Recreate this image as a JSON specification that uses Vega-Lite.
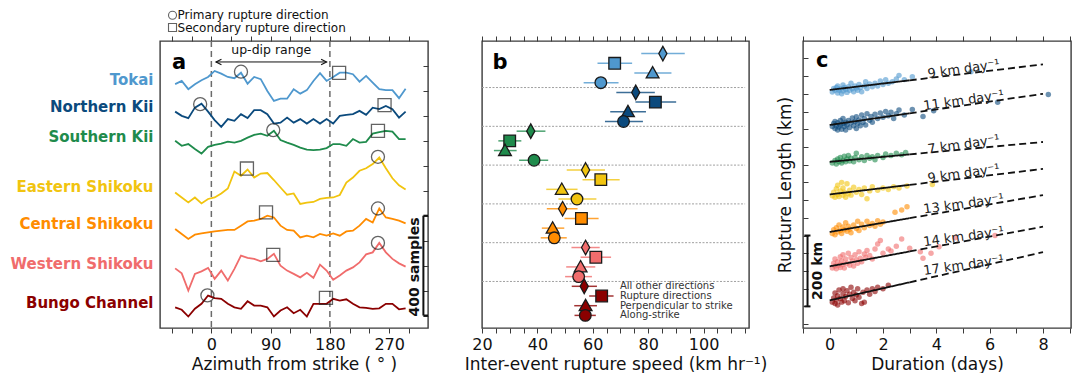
{
"$schema": "https://vega.github.io/schema/vega-lite/v6.json",
"padding": {"left": 9, "top": 8, "right": 0, "bottom": 0},
"config": {
  "font": "DejaVu Sans",
  "view": {"stroke": "#3a3a3a", "strokeWidth": 1.4},
  "axis": {"domain": false, "grid": false, "tickColor": "#3a3a3a", "tickWidth": 1, "labelFontSize": 16, "titleFontSize": 17, "titleFontWeight": "normal", "titleColor": "#111", "labelFont": "DejaVu Sans", "titleFont": "DejaVu Sans", "labelFlush": false, "labelOverlap": false},
  "text": {"font": "DejaVu Sans"}
},
"resolve": {"scale": {"shape": "independent", "color": "independent", "fill": "independent", "strokeDash": "independent"}},
"spacing": 54,
"bounds": "flush",
"datasets": {
  "aline": [
    {"az":-55,"TK":1027,"NK":917,"SK":800,"ES":593,"CS":447,"WS":289,"BC":133},
    {"az":-45,"TK":1040,"NK":900,"SK":780,"ES":573,"CS":427,"WS":269,"BC":123},
    {"az":-35,"TK":1007,"NK":891,"SK":787,"ES":553,"CS":407,"WS":200,"BC":96},
    {"az":-25,"TK":1027,"NK":933,"SK":767,"ES":573,"CS":424,"WS":267,"BC":127},
    {"az":-15,"TK":1043,"NK":949,"SK":749,"ES":549,"CS":429,"WS":277,"BC":147},
    {"az":-5,"TK":1056,"NK":917,"SK":776,"ES":567,"CS":433,"WS":291,"BC":180},
    {"az":5,"TK":1080,"NK":883,"SK":784,"ES":573,"CS":437,"WS":247,"BC":170},
    {"az":15,"TK":1069,"NK":856,"SK":789,"ES":589,"CS":440,"WS":280,"BC":167},
    {"az":25,"TK":1056,"NK":887,"SK":797,"ES":609,"CS":443,"WS":240,"BC":147},
    {"az":35,"TK":1051,"NK":880,"SK":793,"ES":677,"CS":443,"WS":287,"BC":133},
    {"az":45,"TK":1073,"NK":907,"SK":800,"ES":660,"CS":460,"WS":340,"BC":127},
    {"az":55,"TK":1029,"NK":891,"SK":813,"ES":685,"CS":477,"WS":331,"BC":157},
    {"az":65,"TK":1056,"NK":923,"SK":824,"ES":653,"CS":480,"WS":327,"BC":140},
    {"az":75,"TK":1047,"NK":923,"SK":829,"ES":669,"CS":487,"WS":317,"BC":140},
    {"az":85,"TK":1000,"NK":907,"SK":820,"ES":671,"CS":500,"WS":327,"BC":133},
    {"az":95,"TK":960,"NK":869,"SK":840,"ES":643,"CS":493,"WS":347,"BC":96},
    {"az":105,"TK":969,"NK":873,"SK":803,"ES":613,"CS":460,"WS":300,"BC":120},
    {"az":115,"TK":969,"NK":893,"SK":793,"ES":584,"CS":443,"WS":280,"BC":133},
    {"az":125,"TK":1007,"NK":873,"SK":784,"ES":589,"CS":440,"WS":267,"BC":109},
    {"az":135,"TK":989,"NK":887,"SK":773,"ES":547,"CS":413,"WS":253,"BC":123},
    {"az":145,"TK":1003,"NK":869,"SK":765,"ES":552,"CS":420,"WS":271,"BC":96},
    {"az":155,"TK":1040,"NK":887,"SK":763,"ES":555,"CS":413,"WS":251,"BC":147},
    {"az":165,"TK":1071,"NK":869,"SK":765,"ES":567,"CS":427,"WS":304,"BC":147},
    {"az":175,"TK":1040,"NK":887,"SK":771,"ES":571,"CS":420,"WS":280,"BC":147},
    {"az":185,"TK":1056,"NK":869,"SK":787,"ES":573,"CS":429,"WS":243,"BC":167},
    {"az":195,"TK":1073,"NK":900,"SK":787,"ES":583,"CS":420,"WS":260,"BC":160},
    {"az":205,"TK":1073,"NK":904,"SK":780,"ES":633,"CS":437,"WS":280,"BC":165},
    {"az":215,"TK":1067,"NK":907,"SK":807,"ES":653,"CS":440,"WS":293,"BC":147},
    {"az":225,"TK":1037,"NK":920,"SK":793,"ES":680,"CS":460,"WS":313,"BC":133},
    {"az":235,"TK":1060,"NK":904,"SK":796,"ES":690,"CS":487,"WS":345,"BC":131},
    {"az":245,"TK":1033,"NK":933,"SK":829,"ES":707,"CS":473,"WS":353,"BC":127},
    {"az":255,"TK":1007,"NK":927,"SK":835,"ES":733,"CS":529,"WS":391,"BC":129},
    {"az":265,"TK":1003,"NK":940,"SK":840,"ES":690,"CS":493,"WS":353,"BC":147},
    {"az":275,"TK":1003,"NK":927,"SK":837,"ES":650,"CS":487,"WS":327,"BC":147},
    {"az":285,"TK":971,"NK":893,"SK":807,"ES":622,"CS":480,"WS":309,"BC":125},
    {"az":295,"TK":1009,"NK":917,"SK":807,"ES":605,"CS":469,"WS":296,"BC":129}
  ],
  "amark": [
    {"r":"TK","typ":"P","az":45,"s":1077},{"r":"TK","typ":"S","az":194,"s":1072},
    {"r":"NK","typ":"P","az":-17,"s":947},{"r":"NK","typ":"S","az":263,"s":943},
    {"r":"SK","typ":"P","az":94,"s":843},{"r":"SK","typ":"S","az":253,"s":840},
    {"r":"ES","typ":"S","az":54,"s":689},{"r":"ES","typ":"P","az":253,"s":736},
    {"r":"CS","typ":"S","az":83,"s":513},{"r":"CS","typ":"P","az":253,"s":529},
    {"r":"WS","typ":"S","az":94,"s":343},{"r":"WS","typ":"P","az":253,"s":391},
    {"r":"BC","typ":"P","az":-6,"s":181},{"r":"BC","typ":"S","az":174,"s":171}
  ],
  "brow": [
    {"r":"TK","d":"All other directions","v":85.3,"lo":77.5,"hi":93.2},
    {"r":"TK","d":"Rupture directions","v":67.9,"lo":61.7,"hi":74.2},
    {"r":"TK","d":"Perpendicular to strike","v":81.6,"lo":75.0,"hi":88.4},
    {"r":"TK","d":"Along-strike","v":62.9,"lo":56.7,"hi":69.3},
    {"r":"NK","d":"All other directions","v":75.5,"lo":68.5,"hi":82.4},
    {"r":"NK","d":"Rupture directions","v":82.6,"lo":75.4,"hi":90.1},
    {"r":"NK","d":"Perpendicular to strike","v":72.7,"lo":66.3,"hi":79.2},
    {"r":"NK","d":"Along-strike","v":71.1,"lo":64.4,"hi":78.1},
    {"r":"SK","d":"All other directions","v":37.6,"lo":32.5,"hi":42.9},
    {"r":"SK","d":"Rupture directions","v":30.0,"lo":25.9,"hi":34.2},
    {"r":"SK","d":"Perpendicular to strike","v":28.3,"lo":24.3,"hi":32.5},
    {"r":"SK","d":"Along-strike","v":38.8,"lo":33.4,"hi":43.9},
    {"r":"ES","d":"All other directions","v":57.4,"lo":50.6,"hi":64.4},
    {"r":"ES","d":"Rupture directions","v":62.9,"lo":56.3,"hi":69.7},
    {"r":"ES","d":"Perpendicular to strike","v":48.8,"lo":43.2,"hi":54.5},
    {"r":"ES","d":"Along-strike","v":54.3,"lo":47.6,"hi":61.3},
    {"r":"CS","d":"All other directions","v":49.1,"lo":43.4,"hi":54.5},
    {"r":"CS","d":"Rupture directions","v":55.9,"lo":49.8,"hi":62.1},
    {"r":"CS","d":"Perpendicular to strike","v":45.5,"lo":41.6,"hi":49.7},
    {"r":"CS","d":"Along-strike","v":46.1,"lo":41.2,"hi":50.6},
    {"r":"WS","d":"All other directions","v":57.4,"lo":52.3,"hi":62.5},
    {"r":"WS","d":"Rupture directions","v":61.1,"lo":55.6,"hi":66.6},
    {"r":"WS","d":"Perpendicular to strike","v":55.6,"lo":50.4,"hi":60.9},
    {"r":"WS","d":"Along-strike","v":54.9,"lo":50.0,"hi":59.7},
    {"r":"BC","d":"All other directions","v":56.9,"lo":52.4,"hi":61.5},
    {"r":"BC","d":"Rupture directions","v":63.2,"lo":58.7,"hi":67.5},
    {"r":"BC","d":"Perpendicular to strike","v":57.4,"lo":53.3,"hi":61.5},
    {"r":"BC","d":"Along-strike","v":57.3,"lo":53.4,"hi":61.1}
  ],
  "cfit": [
    {"r":"TK","seg":"solid","t":0,"k":661},{"r":"TK","seg":"solid","t":3,"k":688},{"r":"TK","seg":"dashed","t":3,"k":688},{"r":"TK","seg":"dashed","t":8,"k":733},
    {"r":"NK","seg":"solid","t":0,"k":562},{"r":"NK","seg":"solid","t":3,"k":595},{"r":"NK","seg":"dashed","t":3,"k":595},{"r":"NK","seg":"dashed","t":8,"k":650},
    {"r":"SK","seg":"solid","t":0,"k":458},{"r":"SK","seg":"solid","t":3,"k":479},{"r":"SK","seg":"dashed","t":3,"k":479},{"r":"SK","seg":"dashed","t":8,"k":514},
    {"r":"ES","seg":"solid","t":0,"k":366},{"r":"ES","seg":"solid","t":3,"k":393},{"r":"ES","seg":"dashed","t":3,"k":393},{"r":"ES","seg":"dashed","t":8,"k":438},
    {"r":"CS","seg":"solid","t":0,"k":260},{"r":"CS","seg":"solid","t":3,"k":299},{"r":"CS","seg":"dashed","t":3,"k":299},{"r":"CS","seg":"dashed","t":8,"k":364},
    {"r":"WS","seg":"solid","t":0,"k":163},{"r":"WS","seg":"solid","t":3,"k":205},{"r":"WS","seg":"dashed","t":3,"k":205},{"r":"WS","seg":"dashed","t":8,"k":275},
    {"r":"BC","seg":"solid","t":0,"k":67},{"r":"BC","seg":"solid","t":3,"k":118},{"r":"BC","seg":"dashed","t":3,"k":118},{"r":"BC","seg":"dashed","t":8,"k":203}
  ],
  "clab": [
    {"r":"TK","lab":"9 km day⁻¹","t":5.05,"k":706},
    {"r":"NK","lab":"11 km day⁻¹","t":5.05,"k":617},
    {"r":"SK","lab":"7 km day⁻¹","t":5.05,"k":493},
    {"r":"ES","lab":"9 km day⁻¹","t":5.05,"k":411},
    {"r":"CS","lab":"13 km day⁻¹","t":5.05,"k":325},
    {"r":"WS","lab":"14 km day⁻¹","t":5.05,"k":233},
    {"r":"BC","lab":"17 km day⁻¹","t":5.05,"k":152}
  ],
  "cpts": [
    {"r":"TK","t":0.1,"k":655},{"r":"TK","t":0.15,"k":665},{"r":"TK","t":0.2,"k":660},{"r":"TK","t":0.25,"k":668},{"r":"TK","t":0.3,"k":652},{"r":"TK","t":0.3,"k":672},{"r":"TK","t":0.35,"k":660},{"r":"TK","t":0.4,"k":664},{"r":"TK","t":0.45,"k":650},{"r":"TK","t":0.5,"k":675},{"r":"TK","t":0.5,"k":658},{"r":"TK","t":0.55,"k":668},{"r":"TK","t":0.6,"k":662},{"r":"TK","t":0.65,"k":654},{"r":"TK","t":0.7,"k":670},{"r":"TK","t":0.75,"k":660},{"r":"TK","t":0.8,"k":680},{"r":"TK","t":0.85,"k":664},{"r":"TK","t":0.9,"k":656},{"r":"TK","t":0.95,"k":672},{"r":"TK","t":1.0,"k":666},{"r":"TK","t":1.05,"k":660},{"r":"TK","t":1.1,"k":676},{"r":"TK","t":1.15,"k":668},{"r":"TK","t":1.2,"k":656},{"r":"TK","t":1.3,"k":672},{"r":"TK","t":1.35,"k":684},{"r":"TK","t":1.4,"k":665},{"r":"TK","t":1.5,"k":678},{"r":"TK","t":1.6,"k":670},{"r":"TK","t":1.7,"k":680},{"r":"TK","t":1.8,"k":672},{"r":"TK","t":1.9,"k":686},{"r":"TK","t":2.0,"k":676},{"r":"TK","t":2.1,"k":690},{"r":"TK","t":2.2,"k":680},{"r":"TK","t":2.35,"k":684},{"r":"TK","t":2.5,"k":692},{"r":"TK","t":2.6,"k":702},{"r":"TK","t":2.8,"k":690},{"r":"TK","t":3.1,"k":698},{"r":"TK","t":5.3,"k":712},
    {"r":"NK","t":0.1,"k":558},{"r":"NK","t":0.15,"k":566},{"r":"NK","t":0.2,"k":552},{"r":"NK","t":0.2,"k":572},{"r":"NK","t":0.25,"k":560},{"r":"NK","t":0.3,"k":548},{"r":"NK","t":0.3,"k":568},{"r":"NK","t":0.35,"k":556},{"r":"NK","t":0.4,"k":575},{"r":"NK","t":0.4,"k":562},{"r":"NK","t":0.45,"k":550},{"r":"NK","t":0.5,"k":566},{"r":"NK","t":0.5,"k":580},{"r":"NK","t":0.55,"k":558},{"r":"NK","t":0.6,"k":570},{"r":"NK","t":0.6,"k":548},{"r":"NK","t":0.65,"k":562},{"r":"NK","t":0.7,"k":575},{"r":"NK","t":0.75,"k":555},{"r":"NK","t":0.8,"k":568},{"r":"NK","t":0.85,"k":582},{"r":"NK","t":0.9,"k":560},{"r":"NK","t":0.95,"k":572},{"r":"NK","t":1.0,"k":552},{"r":"NK","t":1.0,"k":585},{"r":"NK","t":1.05,"k":566},{"r":"NK","t":1.1,"k":576},{"r":"NK","t":1.15,"k":560},{"r":"NK","t":1.2,"k":590},{"r":"NK","t":1.25,"k":570},{"r":"NK","t":1.3,"k":580},{"r":"NK","t":1.35,"k":562},{"r":"NK","t":1.4,"k":594},{"r":"NK","t":1.5,"k":575},{"r":"NK","t":1.55,"k":586},{"r":"NK","t":1.6,"k":570},{"r":"NK","t":1.7,"k":592},{"r":"NK","t":1.8,"k":580},{"r":"NK","t":1.9,"k":596},{"r":"NK","t":2.0,"k":584},{"r":"NK","t":2.1,"k":600},{"r":"NK","t":2.2,"k":588},{"r":"NK","t":2.3,"k":598},{"r":"NK","t":2.4,"k":580},{"r":"NK","t":2.5,"k":594},{"r":"NK","t":2.6,"k":604},{"r":"NK","t":2.8,"k":590},{"r":"NK","t":3.1,"k":606},{"r":"NK","t":3.5,"k":586},{"r":"NK","t":3.9,"k":602},{"r":"NK","t":6.3,"k":626},{"r":"NK","t":8.2,"k":648},
    {"r":"SK","t":0.1,"k":455},{"r":"SK","t":0.2,"k":462},{"r":"SK","t":0.25,"k":452},{"r":"SK","t":0.3,"k":466},{"r":"SK","t":0.35,"k":458},{"r":"SK","t":0.4,"k":470},{"r":"SK","t":0.45,"k":455},{"r":"SK","t":0.5,"k":462},{"r":"SK","t":0.55,"k":474},{"r":"SK","t":0.6,"k":458},{"r":"SK","t":0.65,"k":466},{"r":"SK","t":0.7,"k":476},{"r":"SK","t":0.75,"k":460},{"r":"SK","t":0.8,"k":468},{"r":"SK","t":0.9,"k":458},{"r":"SK","t":0.95,"k":470},{"r":"SK","t":1.0,"k":482},{"r":"SK","t":1.1,"k":464},{"r":"SK","t":1.2,"k":472},{"r":"SK","t":1.3,"k":462},{"r":"SK","t":1.4,"k":476},{"r":"SK","t":1.5,"k":468},{"r":"SK","t":1.6,"k":472},{"r":"SK","t":1.7,"k":464},{"r":"SK","t":1.8,"k":476},{"r":"SK","t":2.0,"k":470},{"r":"SK","t":2.1,"k":480},{"r":"SK","t":2.3,"k":476},{"r":"SK","t":2.5,"k":482},{"r":"SK","t":2.7,"k":478},{"r":"SK","t":2.85,"k":484},
    {"r":"ES","t":0.1,"k":362},{"r":"ES","t":0.15,"k":372},{"r":"ES","t":0.2,"k":358},{"r":"ES","t":0.25,"k":382},{"r":"ES","t":0.3,"k":366},{"r":"ES","t":0.3,"k":392},{"r":"ES","t":0.35,"k":360},{"r":"ES","t":0.4,"k":376},{"r":"ES","t":0.45,"k":400},{"r":"ES","t":0.5,"k":364},{"r":"ES","t":0.5,"k":384},{"r":"ES","t":0.55,"k":372},{"r":"ES","t":0.6,"k":358},{"r":"ES","t":0.65,"k":396},{"r":"ES","t":0.7,"k":368},{"r":"ES","t":0.75,"k":378},{"r":"ES","t":0.8,"k":364},{"r":"ES","t":0.9,"k":386},{"r":"ES","t":1.0,"k":372},{"r":"ES","t":1.1,"k":380},{"r":"ES","t":1.2,"k":366},{"r":"ES","t":1.3,"k":384},{"r":"ES","t":1.4,"k":354},{"r":"ES","t":1.5,"k":376},{"r":"ES","t":1.6,"k":388},{"r":"ES","t":1.8,"k":378},{"r":"ES","t":2.0,"k":384},{"r":"ES","t":2.2,"k":380},{"r":"ES","t":2.4,"k":388},{"r":"ES","t":2.6,"k":384},{"r":"ES","t":2.9,"k":390},{"r":"ES","t":3.85,"k":394},
    {"r":"CS","t":0.1,"k":256},{"r":"CS","t":0.15,"k":266},{"r":"CS","t":0.2,"k":252},{"r":"CS","t":0.25,"k":272},{"r":"CS","t":0.3,"k":260},{"r":"CS","t":0.35,"k":280},{"r":"CS","t":0.4,"k":264},{"r":"CS","t":0.45,"k":256},{"r":"CS","t":0.5,"k":274},{"r":"CS","t":0.55,"k":266},{"r":"CS","t":0.6,"k":286},{"r":"CS","t":0.65,"k":262},{"r":"CS","t":0.7,"k":276},{"r":"CS","t":0.75,"k":268},{"r":"CS","t":0.8,"k":258},{"r":"CS","t":0.9,"k":280},{"r":"CS","t":1.0,"k":270},{"r":"CS","t":1.05,"k":290},{"r":"CS","t":1.1,"k":264},{"r":"CS","t":1.2,"k":282},{"r":"CS","t":1.3,"k":272},{"r":"CS","t":1.4,"k":290},{"r":"CS","t":1.5,"k":278},{"r":"CS","t":1.6,"k":284},{"r":"CS","t":1.7,"k":276},{"r":"CS","t":1.8,"k":292},{"r":"CS","t":1.9,"k":282},{"r":"CS","t":2.0,"k":288},{"r":"CS","t":2.45,"k":316},{"r":"CS","t":2.7,"k":322},{"r":"CS","t":2.9,"k":331},
    {"r":"WS","t":0.1,"k":158},{"r":"WS","t":0.15,"k":172},{"r":"WS","t":0.2,"k":164},{"r":"WS","t":0.2,"k":184},{"r":"WS","t":0.25,"k":156},{"r":"WS","t":0.3,"k":176},{"r":"WS","t":0.35,"k":166},{"r":"WS","t":0.4,"k":190},{"r":"WS","t":0.4,"k":160},{"r":"WS","t":0.45,"k":178},{"r":"WS","t":0.5,"k":168},{"r":"WS","t":0.5,"k":196},{"r":"WS","t":0.55,"k":158},{"r":"WS","t":0.6,"k":184},{"r":"WS","t":0.65,"k":172},{"r":"WS","t":0.7,"k":200},{"r":"WS","t":0.75,"k":166},{"r":"WS","t":0.8,"k":188},{"r":"WS","t":0.85,"k":178},{"r":"WS","t":0.9,"k":164},{"r":"WS","t":0.95,"k":196},{"r":"WS","t":1.0,"k":182},{"r":"WS","t":1.05,"k":172},{"r":"WS","t":1.1,"k":204},{"r":"WS","t":1.15,"k":186},{"r":"WS","t":1.2,"k":176},{"r":"WS","t":1.3,"k":198},{"r":"WS","t":1.35,"k":188},{"r":"WS","t":1.4,"k":208},{"r":"WS","t":1.5,"k":194},{"r":"WS","t":1.6,"k":184},{"r":"WS","t":1.7,"k":212},{"r":"WS","t":1.8,"k":226},{"r":"WS","t":1.9,"k":236},{"r":"WS","t":2.0,"k":200},{"r":"WS","t":2.2,"k":212},{"r":"WS","t":2.3,"k":206},{"r":"WS","t":2.5,"k":220},{"r":"WS","t":2.7,"k":240},{"r":"WS","t":3.0,"k":214},{"r":"WS","t":3.4,"k":204},{"r":"WS","t":3.5,"k":186},{"r":"WS","t":3.8,"k":200},{"r":"WS","t":4.1,"k":218},{"r":"WS","t":4.7,"k":244},{"r":"WS","t":6.2,"k":250},
    {"r":"BC","t":0.1,"k":62},{"r":"BC","t":0.15,"k":74},{"r":"BC","t":0.2,"k":58},{"r":"BC","t":0.2,"k":88},{"r":"BC","t":0.25,"k":68},{"r":"BC","t":0.3,"k":80},{"r":"BC","t":0.3,"k":54},{"r":"BC","t":0.35,"k":96},{"r":"BC","t":0.4,"k":72},{"r":"BC","t":0.45,"k":62},{"r":"BC","t":0.5,"k":86},{"r":"BC","t":0.5,"k":100},{"r":"BC","t":0.55,"k":66},{"r":"BC","t":0.6,"k":78},{"r":"BC","t":0.65,"k":94},{"r":"BC","t":0.7,"k":60},{"r":"BC","t":0.75,"k":84},{"r":"BC","t":0.8,"k":104},{"r":"BC","t":0.85,"k":72},{"r":"BC","t":0.9,"k":90},{"r":"BC","t":0.95,"k":66},{"r":"BC","t":1.0,"k":82},{"r":"BC","t":1.05,"k":100},{"r":"BC","t":1.1,"k":76},{"r":"BC","t":1.2,"k":58},{"r":"BC","t":1.25,"k":90},{"r":"BC","t":1.3,"k":62},{"r":"BC","t":1.4,"k":96},{"r":"BC","t":1.5,"k":84},{"r":"BC","t":1.6,"k":100},{"r":"BC","t":1.7,"k":92},{"r":"BC","t":1.8,"k":104},{"r":"BC","t":2.0,"k":100},{"r":"BC","t":2.2,"k":110}
  ]
},
"hconcat": [
  {
    "width": 268, "height": 287,
    "resolve": {"axis": {"x": "independent", "y": "independent"}, "scale": {"shape": "independent"}},
    "layer": [
      {
        "data": {"values": [{"az": 0}, {"az": 180}]},
        "mark": {"type": "rule", "color": "#6b6b6b", "strokeDash": [6, 4], "strokeWidth": 1.5},
        "encoding": {
          "x": {"field": "az", "type": "quantitative", "scale": {"domain": [-78, 329], "nice": false, "zero": false},
            "axis": {"orient": "bottom", "values": [-60,-30,0,30,60,90,120,150,180,210,240,270,300], "labelExpr": "datum.value % 90 == 0 ? datum.label : ''", "labelColor": "#111", "tickSize": 5, "labelPadding": 3, "title": "Azimuth from strike ( ° )", "titlePadding": 4}}
        }
      },
      {
        "data": {"name": "aline"},
        "transform": [{"fold": ["TK","NK","SK","ES","CS","WS","BC"], "as": ["r", "s"]}],
        "mark": {"type": "line", "strokeWidth": 1.8},
        "encoding": {
          "x": {"field": "az", "type": "quantitative", "scale": {"domain": [-78, 329], "nice": false, "zero": false}, "axis": null},
          "y": {"field": "s", "type": "quantitative", "scale": {"domain": [50, 1200], "nice": false, "zero": false},
            "axis": {"orient": "left", "values": [1044, 936, 816, 616, 468, 308, 152], "ticks": false, "labelFontWeight": "bold", "labelFontSize": 15, "labelPadding": 7, "title": null,
              "labelExpr": "datum.value == 1044 ? 'Tokai' : datum.value == 936 ? 'Northern Kii' : datum.value == 816 ? 'Southern Kii' : datum.value == 616 ? 'Eastern Shikoku' : datum.value == 468 ? 'Central Shikoku' : datum.value == 308 ? 'Western Shikoku' : 'Bungo Channel'",
              "labelColor": {"condition": [{"test": "datum.value == 1044", "value": "#4f98ce"}, {"test": "datum.value == 936", "value": "#0b4a7d"}, {"test": "datum.value == 816", "value": "#1f8b4c"}, {"test": "datum.value == 616", "value": "#f1c40f"}, {"test": "datum.value == 468", "value": "#ff8c00"}, {"test": "datum.value == 308", "value": "#f06c6c"}], "value": "#8b0000"}}},
          "color": {"field": "r", "type": "nominal", "scale": {"domain": ["TK","NK","SK","ES","CS","WS","BC"], "range": ["#4f98ce","#0b4a7d","#1f8b4c","#f1c40f","#ff8c00","#f06c6c","#8b0000"]}, "legend": null}
        }
      },
      {
        "data": {"name": "amark"},
        "mark": {"type": "point", "filled": false, "color": "#222", "strokeWidth": 1.3, "size": 170},
        "encoding": {
          "x": {"field": "az", "type": "quantitative", "scale": {"domain": [-78, 329], "nice": false, "zero": false},
            "axis": {"orient": "top", "values": [-60,-30,0,30,60,90,120,150,180,210,240,270,300], "labels": false, "tickSize": 5, "title": null}},
          "y": {"field": "s", "type": "quantitative", "scale": {"domain": [50, 1200], "nice": false, "zero": false},
            "axis": {"orient": "right", "values": [100,200,300,400,500,600,700,800,900,1000,1100], "labels": false, "tickSize": -5, "title": null}},
          "shape": {"field": "typ", "type": "nominal", "scale": {"domain": ["P", "S"], "range": ["circle", "square"]}, "legend": null}
        }
      },
      {
        "data": {"values": [{"az": -59, "s": 1303, "typ": "P"}, {"az": -59, "s": 1254, "typ": "S"}]},
        "mark": {"type": "point", "filled": false, "color": "#222", "strokeWidth": 1.1, "size": 64},
        "encoding": {"x": {"field": "az", "type": "quantitative", "scale": {"domain": [-78, 329], "nice": false, "zero": false}, "axis": null},
          "y": {"field": "s", "type": "quantitative", "scale": {"domain": [50, 1200], "nice": false, "zero": false}, "axis": null},
          "shape": {"field": "typ", "type": "nominal", "scale": {"domain": ["P", "S"], "range": ["circle", "square"]}, "legend": null}}
      },
      {
        "data": {"values": [{"az": -59, "s": 1303, "lab": "Primary rupture direction"}, {"az": -59, "s": 1254, "lab": "Secondary rupture direction"}]},
        "mark": {"type": "text", "align": "left", "baseline": "middle", "dx": 5, "fontSize": 12, "color": "#111"},
        "encoding": {"x": {"field": "az", "type": "quantitative", "scale": {"domain": [-78, 329], "nice": false, "zero": false}, "axis": null},
          "y": {"field": "s", "type": "quantitative", "scale": {"domain": [50, 1200], "nice": false, "zero": false}, "axis": null},
          "text": {"field": "lab"}}
      },
      {
        "data": {"values": [{"a1": 7, "a2": 175, "s": 1116}]},
        "mark": {"type": "rule", "color": "#111", "strokeWidth": 1},
        "encoding": {"x": {"field": "a1", "type": "quantitative", "scale": {"domain": [-78, 329], "nice": false, "zero": false}, "axis": null}, "x2": {"field": "a2"},
          "y": {"field": "s", "type": "quantitative", "scale": {"domain": [50, 1200], "nice": false, "zero": false}, "axis": null}}
      },
      {
        "data": {"values": [{"az": 7, "s": 1116, "h": "L"}, {"az": 175, "s": 1116, "h": "R"}]},
        "mark": {"type": "point", "filled": false, "color": "#111", "strokeWidth": 1.1, "size": 30, "opacity": 1},
        "encoding": {"x": {"field": "az", "type": "quantitative", "scale": {"domain": [-78, 329], "nice": false, "zero": false}, "axis": null},
          "y": {"field": "s", "type": "quantitative", "scale": {"domain": [50, 1200], "nice": false, "zero": false}, "axis": null},
          "shape": {"field": "h", "type": "nominal", "scale": {"domain": ["L", "R"], "range": ["M2,-1L0,0L2,1", "M-2,-1L0,0L-2,1"]}, "legend": null}}
      },
      {
        "data": {"values": [{"az": 91, "s": 1164, "lab": "up-dip range"}]},
        "mark": {"type": "text", "align": "center", "baseline": "middle", "fontSize": 12.5, "color": "#111"},
        "encoding": {"x": {"field": "az", "type": "quantitative", "scale": {"domain": [-78, 329], "nice": false, "zero": false}, "axis": null},
          "y": {"field": "s", "type": "quantitative", "scale": {"domain": [50, 1200], "nice": false, "zero": false}, "axis": null}, "text": {"field": "lab"}}
      },
      {
        "data": {"values": [{"az": -49, "s": 1112, "lab": "a"}]},
        "mark": {"type": "text", "align": "center", "baseline": "middle", "fontSize": 21, "fontWeight": "bold", "color": "#000"},
        "encoding": {"x": {"field": "az", "type": "quantitative", "scale": {"domain": [-78, 329], "nice": false, "zero": false}, "axis": null},
          "y": {"field": "s", "type": "quantitative", "scale": {"domain": [50, 1200], "nice": false, "zero": false}, "axis": null}, "text": {"field": "lab"}}
      },
      {
        "data": {"values": [{"a1": 322, "a2": 322, "s1": 100, "s2": 500}, {"a1": 322, "a2": 329, "s1": 100, "s2": 100}, {"a1": 322, "a2": 329, "s1": 500, "s2": 500}]},
        "mark": {"type": "rule", "color": "#111", "strokeWidth": 2},
        "encoding": {"x": {"field": "a1", "type": "quantitative", "scale": {"domain": [-78, 329], "nice": false, "zero": false}, "axis": null}, "x2": {"field": "a2"},
          "y": {"field": "s1", "type": "quantitative", "scale": {"domain": [50, 1200], "nice": false, "zero": false}, "axis": null}, "y2": {"field": "s2"}}
      },
      {
        "data": {"values": [{"az": 310, "s": 295, "lab": "400 samples"}]},
        "mark": {"type": "text", "align": "center", "baseline": "middle", "fontSize": 14, "fontWeight": "bold", "angle": 270, "color": "#111"},
        "encoding": {"x": {"field": "az", "type": "quantitative", "scale": {"domain": [-78, 329], "nice": false, "zero": false}, "axis": null},
          "y": {"field": "s", "type": "quantitative", "scale": {"domain": [50, 1200], "nice": false, "zero": false}, "axis": null}, "text": {"field": "lab"}}
      }
    ]
  },
  {
    "width": 267, "height": 287,
    "resolve": {"axis": {"x": "independent", "y": "independent"}},
    "layer": [
      {
        "data": {"values": [{"r": "NK"}, {"r": "SK"}, {"r": "ES"}, {"r": "CS"}, {"r": "WS"}, {"r": "BC"}]},
        "mark": {"type": "rule", "color": "#a0a0a0", "strokeDash": [2, 1.5], "strokeWidth": 1},
        "encoding": {
          "y": {"field": "r", "type": "nominal", "bandPosition": 0, "scale": {"domain": ["TK","NK","SK","ES","CS","WS","BC"], "paddingInner": 0, "paddingOuter": 0.2}, "axis": null},
          "x": {"datum": 20, "type": "quantitative", "scale": {"domain": [20, 116.4], "nice": false, "zero": false}, "axis": null},
          "x2": {"datum": 115}
        }
      },
      {
        "data": {"name": "brow"},
        "mark": {"type": "rule", "strokeWidth": 1.5, "opacity": 0.8},
        "encoding": {
          "x": {"field": "lo", "type": "quantitative", "scale": {"domain": [20, 116.4], "nice": false, "zero": false},
            "axis": {"orient": "bottom", "values": [20,25,30,35,40,45,50,55,60,65,70,75,80,85,90,95,100,105,110,115], "labelExpr": "datum.value % 20 == 0 ? datum.label : ''", "labelColor": "#111", "tickSize": 5, "labelPadding": 3, "title": "Inter-event rupture speed (km hr⁻¹)", "titlePadding": 4}},
          "x2": {"field": "hi"},
          "y": {"field": "r", "type": "nominal", "scale": {"domain": ["TK","NK","SK","ES","CS","WS","BC"], "paddingInner": 0, "paddingOuter": 0.2}, "axis": null},
          "yOffset": {"field": "d", "type": "nominal", "scale": {"domain": ["All other directions","Rupture directions","Perpendicular to strike","Along-strike"], "paddingInner": 0, "paddingOuter": 0}},
          "color": {"field": "r", "type": "nominal", "scale": {"domain": ["TK","NK","SK","ES","CS","WS","BC"], "range": ["#4f98ce","#0b4a7d","#1f8b4c","#f1c40f","#ff8c00","#f06c6c","#8b0000"]}, "legend": null}
        }
      },
      {
        "data": {"name": "brow"},
        "mark": {"type": "point", "filled": true, "stroke": "#1a1a1a", "strokeWidth": 1.3, "size": 135, "opacity": 1},
        "encoding": {
          "x": {"field": "v", "type": "quantitative", "scale": {"domain": [20, 116.4], "nice": false, "zero": false},
            "axis": {"orient": "top", "values": [20,25,30,35,40,45,50,55,60,65,70,75,80,85,90,95,100,105,110,115], "labels": false, "tickSize": 5, "title": null}},
          "y": {"field": "r", "type": "nominal", "scale": {"domain": ["TK","NK","SK","ES","CS","WS","BC"], "paddingInner": 0, "paddingOuter": 0.2}, "axis": null},
          "yOffset": {"field": "d", "type": "nominal", "scale": {"domain": ["All other directions","Rupture directions","Perpendicular to strike","Along-strike"], "paddingInner": 0, "paddingOuter": 0}},
          "fill": {"field": "r", "type": "nominal", "scale": {"domain": ["TK","NK","SK","ES","CS","WS","BC"], "range": ["#4f98ce","#0b4a7d","#1f8b4c","#f1c40f","#ff8c00","#f06c6c","#8b0000"]}, "legend": null},
          "shape": {"field": "d", "type": "nominal", "scale": {"domain": ["All other directions","Rupture directions","Perpendicular to strike","Along-strike"], "range": ["M0,-1.25L0.7,0L0,1.25L-0.7,0Z", "square", "M0,-1.1L1.1,0.85L-1.1,0.85Z", "circle"]}, "legend": null}
        }
      },
      {
        "data": {"values": [{"r": "BC", "d": "All other directions"}, {"r": "BC", "d": "Rupture directions"}, {"r": "BC", "d": "Perpendicular to strike"}, {"r": "BC", "d": "Along-strike"}]},
        "mark": {"type": "text", "align": "left", "baseline": "middle", "fontSize": 10, "color": "#333"},
        "encoding": {
          "x": {"datum": 69.8, "type": "quantitative", "scale": {"domain": [20, 116.4], "nice": false, "zero": false}, "axis": null},
          "y": {"field": "r", "type": "nominal", "scale": {"domain": ["TK","NK","SK","ES","CS","WS","BC"], "paddingInner": 0, "paddingOuter": 0.2}, "axis": null},
          "yOffset": {"field": "d", "type": "nominal", "scale": {"domain": ["All other directions","Rupture directions","Perpendicular to strike","Along-strike"], "paddingInner": 0, "paddingOuter": 0}},
          "text": {"field": "d"}
        }
      },
      {
        "data": {"values": [{"r": "TK", "d": "Rupture directions", "lab": "b"}]},
        "mark": {"type": "text", "align": "center", "baseline": "middle", "fontSize": 21, "fontWeight": "bold", "color": "#000"},
        "encoding": {
          "x": {"datum": 26.5, "type": "quantitative", "scale": {"domain": [20, 116.4], "nice": false, "zero": false}, "axis": null},
          "y": {"field": "r", "type": "nominal", "scale": {"domain": ["TK","NK","SK","ES","CS","WS","BC"], "paddingInner": 0, "paddingOuter": 0.2}, "axis": null},
          "yOffset": {"field": "d", "type": "nominal", "scale": {"domain": ["All other directions","Rupture directions","Perpendicular to strike","Along-strike"], "paddingInner": 0, "paddingOuter": 0}},
          "text": {"field": "lab"}
        }
      }
    ]
  },
  {
    "width": 268, "height": 287,
    "resolve": {"axis": {"x": "independent", "y": "independent"}},
    "layer": [
      {
        "data": {"name": "cpts"},
        "mark": {"type": "circle", "size": 30, "opacity": 0.6},
        "encoding": {
          "x": {"field": "t", "type": "quantitative", "scale": {"domain": [-1, 9.05], "nice": false, "zero": false},
            "axis": {"orient": "bottom", "values": [-1,0,1,2,3,4,5,6,7,8,9], "labelExpr": "datum.value >= 0 && datum.value % 2 == 0 ? datum.label : ''", "labelColor": "#111", "tickSize": 5, "labelPadding": 3, "title": "Duration (days)", "titlePadding": 4}},
          "y": {"field": "k", "type": "quantitative", "scale": {"domain": [-11, 799], "nice": false, "zero": false},
            "axis": {"orient": "left", "values": [0,50,100,150,200,250,300,350,400,450,500,550,600,650,700,750], "labels": false, "tickSize": -5, "title": "Rupture Length (km)", "titlePadding": 8}},
          "color": {"field": "r", "type": "nominal", "scale": {"domain": ["TK","NK","SK","ES","CS","WS","BC"], "range": ["#4f98ce","#0b4a7d","#1f8b4c","#f1c40f","#ff8c00","#f06c6c","#8b0000"]}, "legend": null}
        }
      },
      {
        "data": {"name": "cfit"},
        "mark": {"type": "line", "color": "#111", "strokeWidth": 1.8},
        "encoding": {
          "x": {"field": "t", "type": "quantitative", "scale": {"domain": [-1, 9.05], "nice": false, "zero": false},
            "axis": {"orient": "top", "values": [-1,0,1,2,3,4,5,6,7,8,9], "labels": false, "tickSize": 5, "title": null}},
          "y": {"field": "k", "type": "quantitative", "scale": {"domain": [-11, 799], "nice": false, "zero": false}, "axis": null},
          "detail": {"field": "r", "type": "nominal"},
          "strokeDash": {"field": "seg", "type": "nominal", "scale": {"domain": ["solid", "dashed"], "range": [[1, 0], [7, 4]]}, "legend": null}
        }
      },
      {
        "data": {"name": "clab"},
        "mark": {"type": "text", "align": "center", "baseline": "alphabetic", "fontSize": 13, "angle": 352, "color": "#222", "dy": -1},
        "encoding": {
          "x": {"field": "t", "type": "quantitative", "scale": {"domain": [-1, 9.05], "nice": false, "zero": false}, "axis": null},
          "y": {"field": "k", "type": "quantitative", "scale": {"domain": [-11, 799], "nice": false, "zero": false}, "axis": null},
          "text": {"field": "lab"}
        }
      },
      {
        "data": {"values": [{"t1": -0.83, "t2": -0.83, "k1": 50, "k2": 250}, {"t1": -0.95, "t2": -0.72, "k1": 50, "k2": 50}, {"t1": -0.95, "t2": -0.72, "k1": 250, "k2": 250}]},
        "mark": {"type": "rule", "color": "#111", "strokeWidth": 2},
        "encoding": {
          "x": {"field": "t1", "type": "quantitative", "scale": {"domain": [-1, 9.05], "nice": false, "zero": false}, "axis": null}, "x2": {"field": "t2"},
          "y": {"field": "k1", "type": "quantitative", "scale": {"domain": [-11, 799], "nice": false, "zero": false}, "axis": null}, "y2": {"field": "k2"}
        }
      },
      {
        "data": {"values": [{"t": -0.42, "k": 150, "lab": "200 km"}]},
        "mark": {"type": "text", "align": "center", "baseline": "middle", "fontSize": 14, "fontWeight": "bold", "angle": 270, "color": "#111"},
        "encoding": {
          "x": {"field": "t", "type": "quantitative", "scale": {"domain": [-1, 9.05], "nice": false, "zero": false}, "axis": null},
          "y": {"field": "k", "type": "quantitative", "scale": {"domain": [-11, 799], "nice": false, "zero": false}, "axis": null},
          "text": {"field": "lab"}
        }
      },
      {
        "data": {"values": [{"t": -0.28, "k": 742, "lab": "c"}]},
        "mark": {"type": "text", "align": "center", "baseline": "middle", "fontSize": 21, "fontWeight": "bold", "color": "#000"},
        "encoding": {
          "x": {"field": "t", "type": "quantitative", "scale": {"domain": [-1, 9.05], "nice": false, "zero": false}, "axis": null},
          "y": {"field": "k", "type": "quantitative", "scale": {"domain": [-11, 799], "nice": false, "zero": false}, "axis": null},
          "text": {"field": "lab"}
        }
      }
    ]
  }
]
}
